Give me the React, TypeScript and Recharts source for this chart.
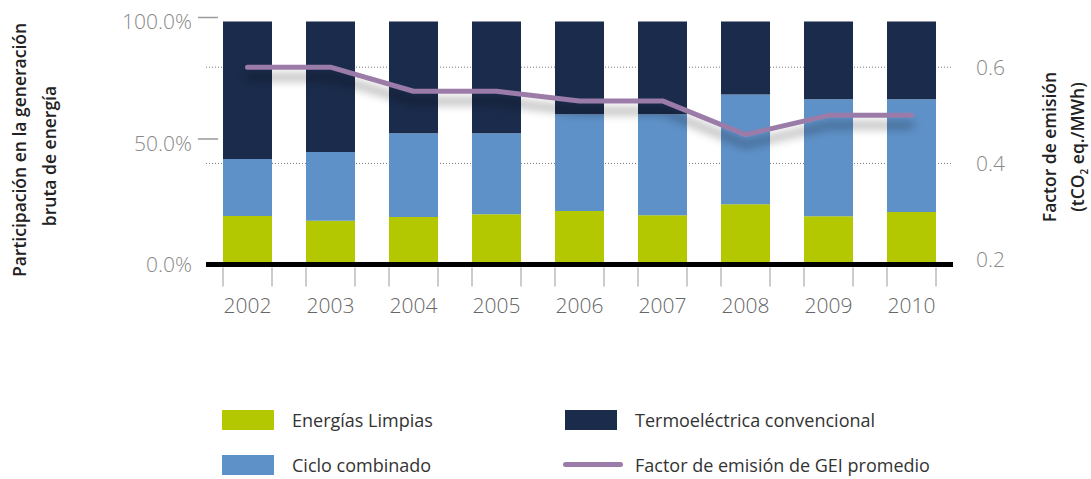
import React from "react";
import { ComposedChart, Bar, Line, XAxis, YAxis, CartesianGrid, Legend } from "recharts";

// values (share of gross generation, %)
const years = ["2002", "2003", "2004", "2005", "2006", "2007", "2008", "2009", "2010"];
const cleanEnergy = [20, 18, 19.5, 20.7, 22, 20.3, 24.8, 19.9, 21.6];
const combinedCycle = [23.4, 28.3, 34.5, 33.3, 39.8, 41.5, 45.2, 48.1, 46.4];
const conventional = [56.6, 53.7, 46, 46, 38.2, 38.2, 30, 32, 32];
// emission factor (tCO2 eq./MWh)
const emissionFactor = [0.6, 0.6, 0.55, 0.55, 0.53, 0.53, 0.46, 0.5, 0.5];

const seriesNames = [
  "Energías Limpias",
  "Ciclo combinado",
  "Termoeléctrica convencional",
  "Factor de emisión de GEI promedio",
];

const shareTicks = [0, 50, 100];
const factorTicks = [0.2, 0.4, 0.6];
const factorGrid = [0.4, 0.6];

const FONT = "'Open Sans', 'DejaVu Sans', sans-serif";
const BAR_SIZE = 49;

const chartData = years.map((year, i) => ({
  year,
  clean: cleanEnergy[i],
  combined: combinedCycle[i],
  conventional: conventional[i],
  factor: emissionFactor[i],
}));

const LeftTick = (props: any) => {
  const { x, y, payload } = props;
  return (
    <g>
      {payload.value !== 0 && (
        <line x1={x - 8} x2={x + 12} y1={y - 4} y2={y - 4} stroke="#9a9a9a" strokeWidth={1.5} />
      )}
      <text x={x - 14} y={y + 7.5} textAnchor="end" fontSize={21} fill="#888" fontFamily={FONT} fontWeight={300}>
        {payload.value.toFixed(1)}%
      </text>
    </g>
  );
};

const RightTick = (props: any) => {
  const { x, y, payload } = props;
  return (
    <text x={x + 23} y={y + 7.5} textAnchor="start" fontSize={21} fill="#888" fontFamily={FONT} fontWeight={300}>
      {payload.value.toFixed(1)}
    </text>
  );
};

const YearTick = (props: any) => {
  const { x, y, payload } = props;
  const half = BAR_SIZE / 2;
  return (
    <g>
      <line x1={x - half} x2={x - half} y1={y + 3} y2={y + 22} stroke="#999" strokeWidth={1} />
      <line x1={x + half} x2={x + half} y1={y + 3} y2={y + 22} stroke="#999" strokeWidth={1} />
      <text x={x} y={y + 48} textAnchor="middle" fontSize={21} fill="#666" fontFamily={FONT} fontWeight={300}>
        {payload.value}
      </text>
    </g>
  );
};

const LeftTitle = (props: any) => {
  const { viewBox } = props;
  const cy = viewBox.y + viewBox.height / 2 + 7;
  return (
    <g fontFamily={FONT} fontSize={17.5} fill="#222" fontWeight={600}>
      <text transform={`translate(26, ${cy}) rotate(-90)`} textAnchor="middle">
        Participación en la generación
      </text>
      <text transform={`translate(56, ${cy + 6}) rotate(-90)`} textAnchor="middle">
        bruta de energía
      </text>
    </g>
  );
};

const RightTitle = (props: any) => {
  const { viewBox } = props;
  const cy = viewBox.y + viewBox.height / 2 + 4;
  return (
    <g fontFamily={FONT} fontSize={17.5} fill="#222" fontWeight={600}>
      <text transform={`translate(1056, ${cy}) rotate(-90)`} textAnchor="middle">
        Factor de emisión
      </text>
      <text transform={`translate(1084, ${cy}) rotate(-90)`} textAnchor="middle">
        (tCO
        <tspan fontSize={10} dy={4}>2</tspan>
        <tspan dy={-4}> eq./MWh)</tspan>
      </text>
    </g>
  );
};

const LegendContent = (props: any) => {
  const { payload = [] } = props;
  const items = [...payload].sort((a: any, b: any) => seriesNames.indexOf(a.value) - seriesNames.indexOf(b.value));
  return (
    <div
      style={{
        display: "grid",
        gridTemplateRows: "45px 45px",
        gridTemplateColumns: "343px 420px",
        gridAutoFlow: "column",
        paddingLeft: 222,
        fontFamily: FONT,
        fontSize: 18,
        color: "#333",
      }}
    >
      {items.map((entry: any) => (
        <div key={entry.value} style={{ display: "flex", alignItems: "center" }}>
          {entry.type === "line" ? (
            <div style={{ width: 60, height: 5, borderRadius: 3, background: entry.color, marginRight: 12, marginLeft: -2 }} />
          ) : (
            <div style={{ width: 52, height: 20, background: entry.color, marginRight: 18 }} />
          )}
          <span>{entry.value}</span>
        </div>
      ))}
    </div>
  );
};

export default function App() {
  return (
    <div style={{ position: "absolute", left: 0, top: 0, width: 1091, height: 479, background: "#fff" }}>
      <ComposedChart
        width={1091}
        height={479}
        data={chartData}
        margin={{ top: 21.5, right: 0, bottom: 154.5, left: 0 }}
        barCategoryGap={0}
      >
        <defs>
          <filter id="lineShadow" x="-10%" y="-50%" width="120%" height="250%">
            <feDropShadow dx="0" dy="10" stdDeviation="5" floodColor="#000" floodOpacity="0.4" />
          </filter>
        </defs>
        <CartesianGrid
          yAxisId="right"
          vertical={false}
          horizontalValues={factorGrid}
          stroke="#777"
          strokeDasharray="1 2"
        />
        <XAxis
          dataKey="year"
          height={60}
          tickSize={0}
          tickMargin={0}
          tickLine={false}
          axisLine={{ stroke: "#000", strokeWidth: 5 }}
          tick={<YearTick />}
          interval={0}
        />
        <YAxis
          yAxisId="left"
          width={206}
          domain={[0, 100]}
          ticks={shareTicks}
          tickSize={0}
          tickMargin={0}
          tickLine={false}
          axisLine={false}
          tick={<LeftTick />}
          label={{ content: <LeftTitle /> }}
        />
        <YAxis
          yAxisId="right"
          orientation="right"
          width={138}
          domain={[0.19, 0.695]}
          ticks={factorTicks}
          allowDataOverflow
          tickSize={0}
          tickMargin={0}
          tickLine={false}
          axisLine={false}
          tick={<RightTick />}
          label={{ content: <RightTitle /> }}
        />
        <Bar yAxisId="left" dataKey="clean" name={seriesNames[0]} stackId="s" fill="#b3c800" barSize={BAR_SIZE} isAnimationActive={false} />
        <Bar yAxisId="left" dataKey="combined" name={seriesNames[1]} stackId="s" fill="#5e91c8" barSize={BAR_SIZE} isAnimationActive={false} />
        <Bar yAxisId="left" dataKey="conventional" name={seriesNames[2]} stackId="s" fill="#1a2b4b" barSize={BAR_SIZE} isAnimationActive={false} />
        <Line
          yAxisId="right"
          dataKey="factor"
          name={seriesNames[3]}
          type="linear"
          stroke="#9b7ca9"
          strokeWidth={5}
          strokeLinecap="round"
          strokeLinejoin="round"
          dot={false}
          activeDot={false}
          filter="url(#lineShadow)"
          isAnimationActive={false}
        />
        <Legend
          layout="horizontal"
          verticalAlign="middle"
          align="center"
          content={<LegendContent />}
          wrapperStyle={{ left: 0, top: 397, width: 1091 }}
        />
      </ComposedChart>
    </div>
  );
}
